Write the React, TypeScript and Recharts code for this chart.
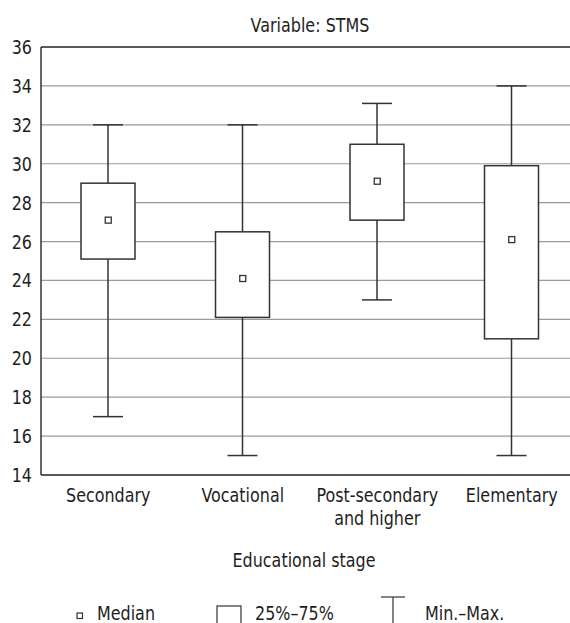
import {
  ComposedChart,
  Bar,
  Line,
  XAxis,
  YAxis,
  CartesianGrid,
  ReferenceLine,
} from 'recharts'

const stages = ['Secondary', 'Vocational', 'Post-secondary\nand higher', 'Elementary']
const mins = [17, 15, 23, 15]
const q1s = [25.1, 22.1, 27.1, 21]
const medians = [27.1, 24.1, 29.1, 26.1]
const q3s = [29, 26.5, 31, 29.9]
const maxs = [32, 32, 33.1, 34]
const yTicks = [14, 16, 18, 20, 22, 24, 26, 28, 30, 32, 34, 36]

const FONT = "'DejaVu Sans', sans-serif"
const FS = 19
const SQUEEZE = 0.84
const INK = '#1e1e1e'
const LINE = '#333'

interface Row {
  name: string
  whisker: [number, number]
  box: [number, number]
  median: number
}

const data: Row[] = stages.map((name, i) => ({
  name,
  whisker: [mins[i], maxs[i]],
  box: [q1s[i], q3s[i]],
  median: medians[i],
}))

// condensed-looking label: the reference uses a narrow face we don't have
function NarrowText({
  x,
  y,
  anchor = 'start',
  children,
}: {
  x: number
  y: number
  anchor?: 'start' | 'middle' | 'end'
  children: any
}) {
  return (
    <g transform={`translate(${x} ${y}) scale(${SQUEEZE} 1)`}>
      <text x={0} y={0} textAnchor={anchor} fill={INK} fontSize={FS} fontFamily={FONT}>
        {children}
      </text>
    </g>
  )
}

function WhiskerShape(props: any) {
  const { x, y, width, height } = props
  const cx = x + width / 2
  return (
    <g stroke={LINE} strokeWidth={1.5} fill="none">
      <line x1={cx} x2={cx} y1={y} y2={y + height} />
      <line x1={x} x2={x + width} y1={y} y2={y} />
      <line x1={x} x2={x + width} y1={y + height} y2={y + height} />
    </g>
  )
}

function BoxShape(props: any) {
  const { x, y, width, height } = props
  return <rect x={x} y={y} width={width} height={height} fill="#fff" stroke={LINE} strokeWidth={1.5} />
}

function MedianDot(props: any) {
  const { cx, cy, index } = props
  return (
    <rect
      key={`m-${index}`}
      x={cx - 3}
      y={cy - 3}
      width={6}
      height={6}
      fill="#fff"
      stroke={LINE}
      strokeWidth={1.3}
    />
  )
}

function StageTick(props: any) {
  const { x, y, payload } = props
  const lines = String(payload.value).split('\n')
  return (
    <NarrowText x={x} y={y + 19} anchor="middle">
      {lines.map((l, i) => (
        <tspan key={i} x={0} dy={i === 0 ? 0 : 23}>
          {l}
        </tspan>
      ))}
    </NarrowText>
  )
}

function YTick(props: any) {
  const { x, y, payload } = props
  return (
    <NarrowText x={x - 1} y={y + 7} anchor="end">
      {payload.value}
    </NarrowText>
  )
}

function AxisTitle(props: any) {
  const { viewBox } = props
  return (
    <NarrowText x={viewBox.x + viewBox.width / 2 - 6} y={viewBox.y + 92} anchor="middle">
      Educational stage
    </NarrowText>
  )
}

export default function App() {
  return (
    <div
      style={{
        position: 'absolute',
        left: 0,
        top: 0,
        width: 570,
        height: 623,
        overflow: 'hidden',
        background: '#fff',
      }}
    >
      <ComposedChart
        width={585}
        height={623}
        data={data}
        margin={{ top: 47, right: 6, bottom: 48, left: 0 }}
      >
        <CartesianGrid xAxisId="main" vertical={false} stroke="#9a9a9a" strokeWidth={1.2} />
        <XAxis
          xAxisId="main"
          dataKey="name"
          tick={<StageTick />}
          tickLine={false}
          axisLine={{ stroke: LINE, strokeWidth: 1.5 }}
          interval={0}
          height={100}
          label={<AxisTitle />}
        />
        <XAxis xAxisId="box" dataKey="name" hide height={0} />
        <YAxis
          domain={[14, 36]}
          ticks={yTicks}
          interval={0}
          tickLine={false}
          axisLine={{ stroke: LINE, strokeWidth: 1.5 }}
          tick={<YTick />}
          width={41}
        />
        <ReferenceLine xAxisId="main" y={36} stroke={LINE} strokeWidth={1.6} />
        <Bar
          xAxisId="main"
          dataKey="whisker"
          barSize={30}
          shape={<WhiskerShape />}
          isAnimationActive={false}
        />
        <Bar
          xAxisId="box"
          dataKey="box"
          barSize={54}
          shape={<BoxShape />}
          isAnimationActive={false}
        />
        <Line
          xAxisId="main"
          dataKey="median"
          stroke="none"
          dot={<MedianDot />}
          activeDot={false}
          isAnimationActive={false}
        />
      </ComposedChart>
      <svg
        width={570}
        height={623}
        style={{ position: 'absolute', left: 0, top: 0, pointerEvents: 'none' }}
      >
        <NarrowText x={310} y={32} anchor="middle">
          Variable: STMS
        </NarrowText>
        <rect x={77} y={613} width={5.5} height={5.5} fill="#fff" stroke={LINE} strokeWidth={1.2} />
        <NarrowText x={97} y={620}>
          Median
        </NarrowText>
        <rect x={217} y={606} width={24} height={30} fill="#fff" stroke={LINE} strokeWidth={1.2} />
        <NarrowText x={255} y={620}>
          25%–75%
        </NarrowText>
        <g stroke={LINE} strokeWidth={1.2}>
          <line x1={381} x2={405} y1={597} y2={597} />
          <line x1={393} x2={393} y1={597} y2={640} />
        </g>
        <NarrowText x={425} y={620}>
          Min.–Max.
        </NarrowText>
      </svg>
    </div>
  )
}
